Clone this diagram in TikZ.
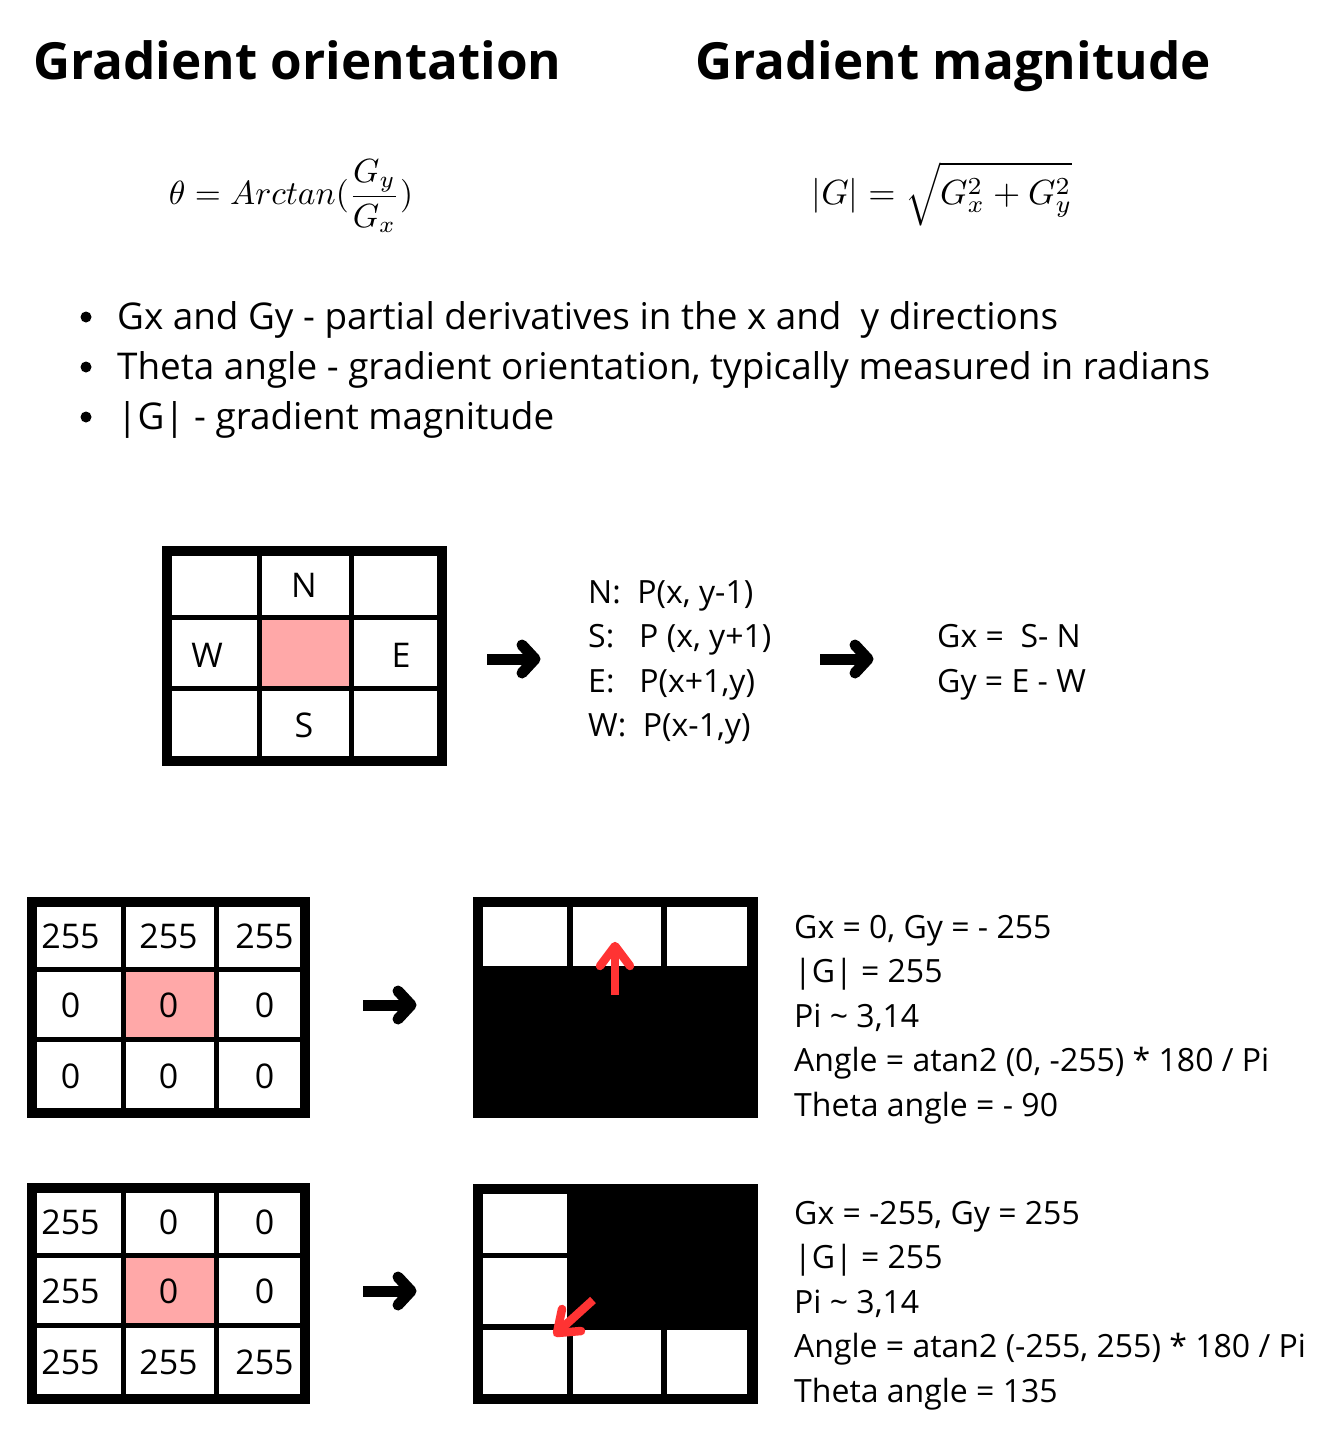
\documentclass[tikz,border=0pt]{standalone}
\usepackage[no-math]{fontspec}
\setmainfont{Open Sans}
\usetikzlibrary{calc}
\definecolor{pinkcell}{RGB}{255,168,168}
\definecolor{redarrow}{RGB}{255,51,51}
\newcommand\fatarrow[3]{%
  \coordinate (#1s) at (#2,#3);
  \coordinate (#1e) at ($(#2,#3)+(54,0)$);
  \draw[blkshaft] (#1s) -- ($(#1e)+(-6,0)$);
  \draw[blkhead] ($(#1e)+(-19,-14)$) -- ($(#1e)+(-6,0)$) -- ($(#1e)+(-19,14)$);
}
\begin{document}
\begin{tikzpicture}[x=1pt,y=-1pt,
  title/.style={font=\fontsize{51.2}{60}\selectfont\bfseries, anchor=base west, inner sep=0},
  bullettext/.style={font=\fontsize{36.85}{44}\selectfont, anchor=base west, inner sep=0},
  body/.style={font=\fontsize{32}{40}\selectfont, anchor=base west, inner sep=0},
  celltext/.style={font=\fontsize{34}{40}\selectfont, anchor=base, inner sep=0},
  formula/.style={inner sep=0},
  bulletdot/.style={circle, fill=black, inner sep=0, minimum size=11pt},
  outerline/.style={line width=10pt},
  innerline/.style={line width=5pt},
  blkshaft/.style={line width=11pt},
  blkhead/.style={line width=11pt, line cap=round, line join=round},
  redshaft/.style={draw=redarrow, line width=8.5pt},
  redhead/.style={draw=redarrow, line width=8.5pt, line cap=round, line join=round},
]
\useasboundingbox[fill=white] (0,0) rectangle (1327,1447);

% titles
\node[title] (t1) at (33,80) {Gradient orientation};
\node[title] (t2) at (695,80) {Gradient magnitude};

% formulas
\node[formula] (f1) at (291,196) {\scalebox{3.35}{$\displaystyle \theta = Arctan(\frac{G_y}{G_x})$}};
\node[formula] (f2) at (942,194) {\scalebox{3.5}{$\displaystyle |G| = \sqrt{G_x^2+G_y^2}$}};

% bullets
\node[bulletdot] (b1) at (86,317) {};
\node[bulletdot] (b2) at (86,367) {};
\node[bulletdot] (b3) at (86,417) {};
\node[bullettext] (l1) at (117,329) {Gx and Gy - partial derivatives in the x and\ \ y directions};
\node[bullettext] (l2) at (117,379) {Theta angle - gradient orientation, typically measured in radians};
\node[bullettext] (l3) at (117,429) {|G| - gradient magnitude};

% grid 1 (neighbourhood)
\fill[pinkcell] (259.5,617.5) rectangle (351.5,688.5);
\draw[innerline] (259.5,551) -- (259.5,760.5);
\draw[innerline] (351.5,551) -- (351.5,760.5);
\draw[innerline] (167,617.5) -- (441.5,617.5);
\draw[innerline] (167,688.5) -- (441.5,688.5);
\draw[outerline] (167,551) rectangle (441.5,760.5);
\node[celltext] (gN) at (304,597) {N};
\node[celltext] (gW) at (207,667) {W};
\node[celltext] (gE) at (401,667) {E};
\node[celltext] (gS) at (304,737) {S};

\fatarrow{a1}{487}{659}

\node[body] (n1) at (588,603) {N:\ \ P(x, y-1)};
\node[body] (n2) at (588,647.5) {S:\ \ \ P (x, y+1)};
\node[body] (n3) at (588,692) {E:\ \ \ P(x+1,y)};
\node[body] (n4) at (588,736.5) {W:\ \ P(x-1,y)};

\fatarrow{a2}{820}{659}

\node[body] (g1) at (937,647) {Gx =\ \ S- N};
\node[body] (g2) at (937,692) {Gy = E - W};

% grid 2
\fill[pinkcell] (123.5,969.5) rectangle (216.5,1039);
\draw[innerline] (123.5,902) -- (123.5,1113);
\draw[innerline] (216.5,902) -- (216.5,1113);
\draw[innerline] (32,969.5) -- (305,969.5);
\draw[innerline] (32,1039) -- (305,1039);
\draw[outerline] (32,902) rectangle (305,1113);
\node[celltext] (p11) at (70.5,948) {255};
\node[celltext] (p12) at (168.5,948) {255};
\node[celltext] (p13) at (264.5,948) {255};
\node[celltext] (p21) at (70.5,1017) {0};
\node[celltext] (p22) at (168.5,1017) {0};
\node[celltext] (p23) at (264.5,1017) {0};
\node[celltext] (p31) at (70.5,1088) {0};
\node[celltext] (p32) at (168.5,1088) {0};
\node[celltext] (p33) at (264.5,1088) {0};

\fatarrow{a3}{363}{1005}

% grid 4 (result 1)
\fill[black] (473,897) rectangle (758,1118);
\fill[white] (483,907) rectangle (567,966);
\fill[white] (573,907) rectangle (661,966);
\fill[white] (667,907) rectangle (747,966);
\coordinate (r1s) at (615,995);
\coordinate (r1e) at (615,946);
\draw[redshaft] (r1s) -- ($(r1e)+(0,6)$);
\draw[redhead] ($(r1e)+(-15,20)$) -- (r1e) -- ($(r1e)+(15,20)$);

\node[body] (q1) at (794,938) {Gx = 0, Gy = - 255};
\node[body] (q2) at (794,982.5) {|G| = 255};
\node[body] (q3) at (794,1027) {Pi \textasciitilde\ 3,14};
\node[body] (q4) at (794,1071.5) {Angle = atan2 (0, -255) * 180 / Pi};
\node[body] (q5) at (794,1116) {Theta angle = - 90};

% grid 3
\fill[pinkcell] (123.5,1255.5) rectangle (216.5,1325);
\draw[innerline] (123.5,1188) -- (123.5,1399);
\draw[innerline] (216.5,1188) -- (216.5,1399);
\draw[innerline] (32,1255.5) -- (305,1255.5);
\draw[innerline] (32,1325) -- (305,1325);
\draw[outerline] (32,1188) rectangle (305,1399);
\node[celltext] (s11) at (70.5,1234) {255};
\node[celltext] (s12) at (168.5,1234) {0};
\node[celltext] (s13) at (264.5,1234) {0};
\node[celltext] (s21) at (70.5,1303) {255};
\node[celltext] (s22) at (168.5,1303) {0};
\node[celltext] (s23) at (264.5,1303) {0};
\node[celltext] (s31) at (70.5,1374) {255};
\node[celltext] (s32) at (168.5,1374) {255};
\node[celltext] (s33) at (264.5,1374) {255};

\fatarrow{a4}{363}{1291}

% grid 5 (result 2)
\fill[black] (473,1184) rectangle (758,1404);
\fill[white] (483,1194) rectangle (567,1253);
\fill[white] (483,1258) rectangle (567,1324);
\fill[white] (483,1330) rectangle (567,1394);
\fill[white] (573,1330) rectangle (661,1394);
\fill[white] (667,1330) rectangle (747,1394);
\coordinate (r2s) at (593,1300);
\coordinate (r2e) at (557,1333);
\draw[redshaft] (r2s) -- ($(r2e)+(4,-4)$);
\draw[redhead] (562,1309) -- (r2e) -- (581,1331);

\node[body] (u1) at (794,1224) {Gx = -255, Gy = 255};
\node[body] (u2) at (794,1268.5) {|G| = 255};
\node[body] (u3) at (794,1313) {Pi \textasciitilde\ 3,14};
\node[body] (u4) at (794,1357.5) {Angle = atan2 (-255, 255) * 180 / Pi};
\node[body] (u5) at (794,1402) {Theta angle = 135};
\end{tikzpicture}
\end{document}
